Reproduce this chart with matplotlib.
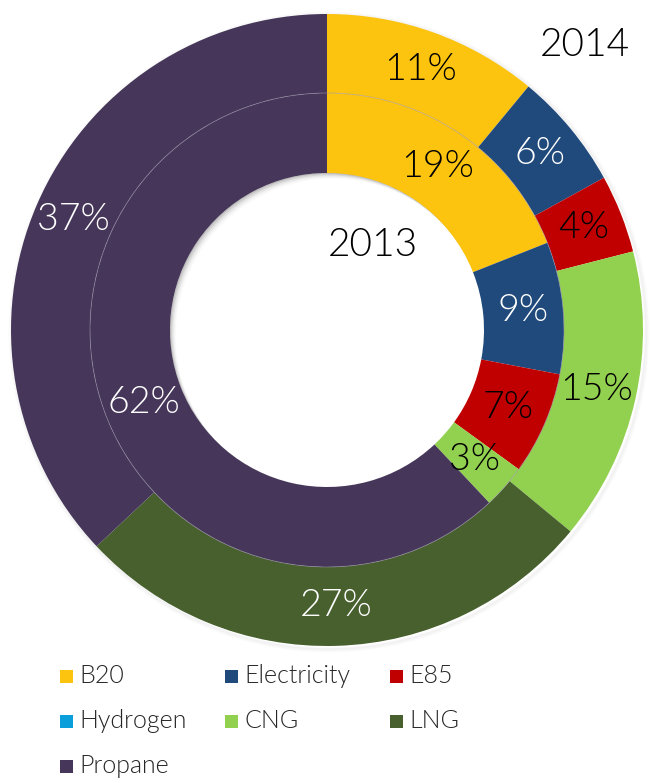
import matplotlib
matplotlib.use("Agg")
import matplotlib.pyplot as plt
from matplotlib.patches import Rectangle, Circle, Wedge
import numpy as np

categories = ["B20", "Electricity", "E85", "Hydrogen", "CNG", "LNG", "Propane"]
values_2014 = [11, 6, 4, 0, 15, 27, 37]
values_2013 = [19, 9, 7, 0, 3, 0, 62]
colors = ["#FCC30F", "#214A7C", "#C00000", "#0A9FDA", "#92D050", "#47602D", "#46375A"]
label_colors = ["black", "white", "black", "white", "black", "white", "white"]

plt.rcParams['font.family'] = ['Lato', 'DejaVu Sans']
WEIGHT = 300

W, H = 650, 783
fig = plt.figure(figsize=(W / 100, H / 100), dpi=100)
ax = fig.add_axes([0, 0, 1, 1])
cx, cy = 327, H - 330
R_out, R_mid, R_in = 316, 237, 157

# soft shadow behind outer ring
for i, a in enumerate([0.06, 0.045, 0.03, 0.02]):
    ax.add_patch(Circle((cx + 2, cy - 2), R_out + 0.5 + i, facecolor="none",
                        edgecolor="gray", lw=1.5, alpha=a, zorder=0))

ax.pie(values_2014, radius=R_out, center=(cx, cy), startangle=90, counterclock=False,
       colors=colors, wedgeprops=dict(width=R_out - R_mid, edgecolor="none", linewidth=0))
ax.pie(values_2013, radius=R_mid, center=(cx, cy), startangle=90, counterclock=False,
       colors=colors, wedgeprops=dict(width=R_mid - R_in, edgecolor="none", linewidth=0))
ax.add_patch(Circle((cx, cy), R_mid, facecolor="none", edgecolor="#9A93A8", lw=0.6, alpha=0.6, zorder=5))

# inner hole shadow (cast down-right into the hole)
hole = Circle((cx, cy), R_in, facecolor="none", edgecolor="none")
ax.add_patch(hole)
for i, a in enumerate([0.10, 0.07, 0.05, 0.03, 0.02]):
    off = 1.0 + i * 1.2
    w = Wedge((cx + off, cy - off), R_in + 20, 0, 360, width=20, facecolor="black",
              edgecolor="none", alpha=a, zorder=4)
    ax.add_patch(w)
    w.set_clip_path(hole)

def put_labels(vals, r_mid_label):
    cum = 0
    for v, lc in zip(vals, label_colors):
        if v > 0:
            ang = np.deg2rad(90 - 360 * (cum + v / 2) / sum(vals))
            x = cx + r_mid_label * np.cos(ang)
            y = cy + r_mid_label * np.sin(ang)
            ax.text(x, y, f"{v}%", ha="center", va="center", fontsize=27,
                    color=lc, fontweight=WEIGHT, zorder=6)
        cum += v

put_labels(values_2014, (R_out + R_mid) / 2)
put_labels(values_2013, (R_mid + R_in) / 2)

ax.text(585, H - 45, "2014", ha="center", va="center", fontsize=28, fontweight=WEIGHT)
ax.text(373, H - 245, "2013", ha="center", va="center", fontsize=28, fontweight=WEIGHT)

# legend
col_x = [60, 225, 390]
row_y = [676, 721, 766]
for i, (cat, col) in enumerate(zip(categories, colors)):
    r, c = divmod(i, 3)
    x = col_x[c]
    y = H - row_y[r]
    ax.add_patch(Rectangle((x, y - 6.5), 13, 13, facecolor=col, edgecolor="none"))
    ax.text(x + 19, y, cat, ha="left", va="center", fontsize=18,
            color="#262626", fontweight=WEIGHT)

ax.set_xlim(0, W)
ax.set_ylim(0, H)
ax.set_aspect("equal")
ax.axis("off")
fig.savefig("out.png", dpi=100)
